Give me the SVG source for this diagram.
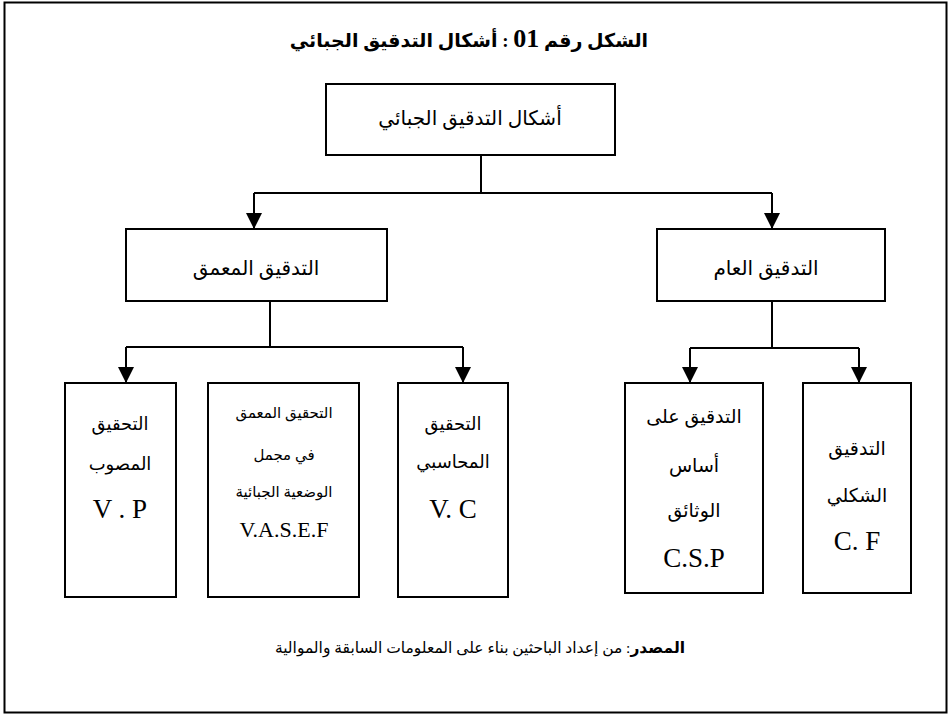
<svg xmlns="http://www.w3.org/2000/svg" width="949" height="716" viewBox="0 0 949 716">
<defs>
<marker id="arr" markerUnits="userSpaceOnUse" markerWidth="16" markerHeight="16" viewBox="0 0 16 16" refX="16" refY="8" orient="auto">
<path d="M0,0 L16,8 L0,16 Z" fill="#000"/>
</marker>
<style>
.box{fill:#fff;stroke:#000;stroke-width:2}
.ln{fill:none;stroke:#000;stroke-width:2}
.ar{font-family:"Liberation Serif","DejaVu Sans",serif;fill:#000;text-anchor:middle}
.la{font-family:"Liberation Serif",serif;fill:#000;text-anchor:middle}
</style>
</defs>
<rect x="4.5" y="2.5" width="942" height="710" fill="#fff" stroke="#000" stroke-width="2"/>
<text class="ar" x="469" y="47" font-size="19" font-weight="bold" direction="rtl">الشكل رقم <tspan font-family="Liberation Serif" font-size="26">01</tspan> : أشكال التدقيق الجبائي</text>

<g id="connectors">
<path class="ln" d="M481,155 V193"/>
<path class="ln" d="M254,193 H772"/>
<path class="ln" d="M254,193 V229" marker-end="url(#arr)"/>
<path class="ln" d="M772,193 V229" marker-end="url(#arr)"/>
<path class="ln" d="M270,301 V347"/>
<path class="ln" d="M126,347 H463"/>
<path class="ln" d="M126,347 V383" marker-end="url(#arr)"/>
<path class="ln" d="M463,347 V383" marker-end="url(#arr)"/>
<path class="ln" d="M772,301 V348"/>
<path class="ln" d="M690,348 H859"/>
<path class="ln" d="M690,348 V383" marker-end="url(#arr)"/>
<path class="ln" d="M859,348 V383" marker-end="url(#arr)"/>
</g>

<g id="root">
<rect class="box" x="326" y="84" width="289" height="71"/>
<text class="ar" x="470" y="125" font-size="20">أشكال التدقيق الجبائي</text>
</g>
<g id="deep">
<rect class="box" x="126" y="229" width="261" height="72"/>
<text class="ar" x="256" y="275" font-size="20">التدقيق المعمق</text>
</g>
<g id="general">
<rect class="box" x="657" y="229" width="228" height="72"/>
<text class="ar" x="766" y="275" font-size="20">التدقيق العام</text>
</g>
<g id="vp">
<rect class="box" x="65" y="383" width="111" height="214"/>
<text class="ar" x="120" y="430" font-size="18">التحقيق</text>
<text class="ar" x="120" y="470" font-size="18">المصوب</text>
<text class="la" x="120" y="518" font-size="27">V . P</text>
</g>
<g id="vasef">
<rect class="box" x="208" y="383" width="151" height="214"/>
<text class="ar" x="284" y="418" font-size="15">التحقيق المعمق</text>
<text class="ar" x="284" y="460" font-size="15">في مجمل</text>
<text class="ar" x="284" y="497" font-size="15">الوضعية الجبائية</text>
<text class="la" x="284" y="537" font-size="22">V.A.S.E.F</text>
</g>
<g id="vc">
<rect class="box" x="398" y="383" width="110" height="214"/>
<text class="ar" x="453" y="430" font-size="18">التحقيق</text>
<text class="ar" x="453" y="468" font-size="18">المحاسبي</text>
<text class="la" x="453" y="518" font-size="27">V. C</text>
</g>
<g id="csp">
<rect class="box" x="625" y="383" width="138" height="210"/>
<text class="ar" x="694" y="423" font-size="19">التدقيق على</text>
<text class="ar" x="694" y="472" font-size="19">أساس</text>
<text class="ar" x="694" y="517" font-size="19">الوثائق</text>
<text class="la" x="694" y="567" font-size="27">C.S.P</text>
</g>
<g id="cf">
<rect class="box" x="803" y="383" width="108" height="210"/>
<text class="ar" x="857" y="455" font-size="19">التدقيق</text>
<text class="ar" x="857" y="502" font-size="19">الشكلي</text>
<text class="la" x="857" y="550" font-size="27">C. F</text>
</g>
<text class="ar" x="480" y="653" font-size="15.5" direction="rtl"><tspan font-weight="bold">المصدر</tspan>: من إعداد الباحثين بناء على المعلومات السابقة والموالية</text>
</svg>
